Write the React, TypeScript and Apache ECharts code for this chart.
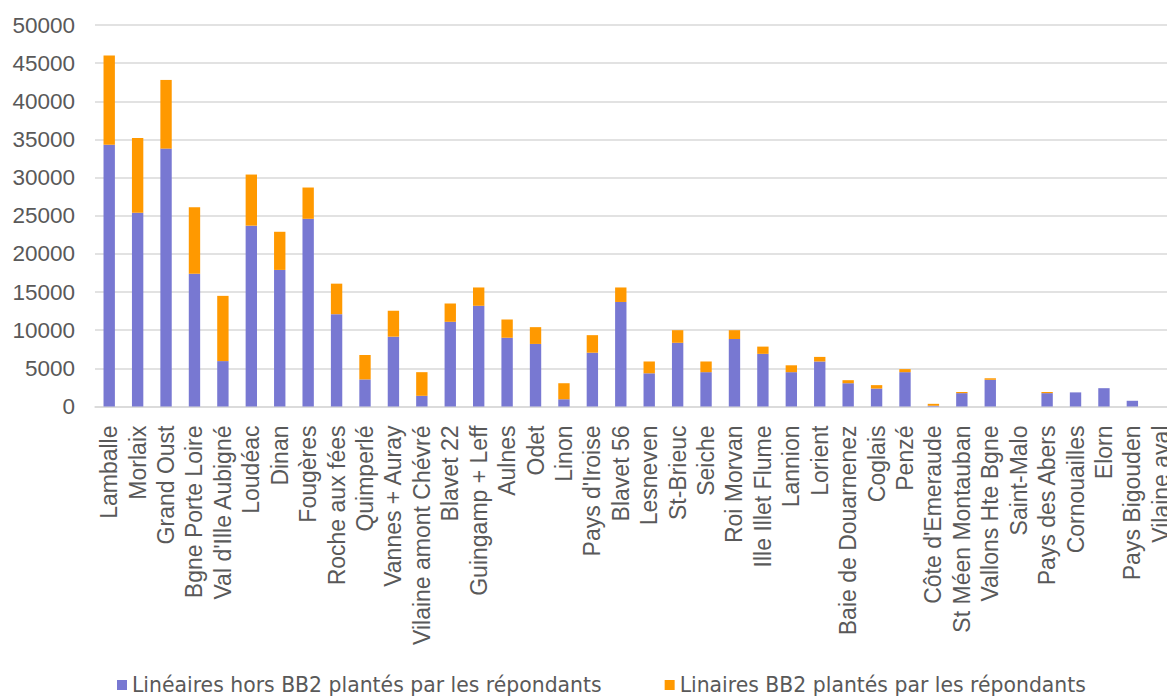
import React, { useEffect, useRef } from "react";
import * as echarts from "echarts";

const categories = [
  "Lamballe", "Morlaix", "Grand Oust", "Bgne Porte Loire", "Val d'Ille Aubigné",
  "Loudéac", "Dinan", "Fougères", "Roche aux fées", "Quimperlé",
  "Vannes + Auray", "Vilaine amont Chévré", "Blavet 22", "Guingamp + Leff", "Aulnes",
  "Odet", "Linon", "Pays d'Iroise", "Blavet 56", "Lesneven",
  "St-Brieuc", "Seiche", "Roi Morvan", "Ille Illet Flume", "Lannion",
  "Lorient", "Baie de Douarnenez", "Coglais", "Penzé", "Côte d'Emeraude",
  "St Méen Montauban", "Vallons Hte Bgne", "Saint-Malo", "Pays des Abers", "Cornouailles",
  "Elorn", "Pays Bigouden", "Vilaine aval",
];

const horsBB2 = [
  34300, 25400, 33800, 17400, 5950,
  23700, 17900, 24600, 12100, 3550,
  9150, 1400, 11100, 13200, 9000,
  8200, 950, 7050, 13700, 4350,
  8350, 4500, 8850, 6900, 4500,
  5900, 3050, 2350, 4500, 100,
  1750, 3500, 0, 1750, 1850,
  2400, 750, 0,
];

const bb2 = [
  11700, 9800, 9000, 8700, 8550,
  6700, 5000, 4100, 4000, 3200,
  3400, 3100, 2400, 2400, 2400,
  2200, 2100, 2300, 1900, 1550,
  1650, 1400, 1150, 950, 900,
  600, 400, 450, 400, 250,
  150, 200, 0, 150, 0,
  0, 0, 0,
];

const seriesNames = [
  "Linéaires hors BB2 plantés par les répondants",
  "Linaires BB2 plantés par les répondants",
];

const yMin = 0;
const yMax = 50000;
const yInterval = 5000;

export default function App() {
  const ref = useRef<HTMLDivElement>(null);

  useEffect(() => {
    if (!ref.current) return;
    const chart = echarts.init(ref.current, undefined, { renderer: "svg" });
    const font = "'Liberation Sans', Arial, sans-serif";
    chart.setOption({
      animation: false,
      backgroundColor: "#ffffff",
      grid: { left: 95, top: 25, width: 1080, height: 381.5, containLabel: false },
      legend: {
        left: 112,
        top: 669,
        itemWidth: 10,
        itemHeight: 10,
        itemGap: 63,
        icon: "rect",
        textStyle: { fontFamily: "'DejaVu Sans', sans-serif", fontSize: 20.4, lineHeight: 22, color: "#595959" },
        data: seriesNames,
      },
      xAxis: {
        type: "category",
        data: categories,
        axisLine: { show: true, lineStyle: { color: "#d9d9d9", width: 1.5 } },
        axisTick: { show: false },
        axisLabel: {
          interval: 0,
          rotate: 90,
          margin: 19,
          fontFamily: font,
          fontSize: 23,
          color: "#595959",
        },
      },
      yAxis: {
        type: "value",
        min: yMin,
        max: yMax,
        interval: yInterval,
        axisLine: { show: false },
        axisTick: { show: false },
        splitLine: { lineStyle: { color: "#d9d9d9", width: 1.5 } },
        axisLabel: {
          margin: 20,
          fontFamily: font,
          fontSize: 22.5,
          color: "#595959",
          formatter: (v: number) => String(v),
        },
      },
      series: [
        {
          name: seriesNames[0],
          type: "bar",
          stack: "total",
          barWidth: "40%",
          data: horsBB2,
          itemStyle: { color: "#7878d2" },
        },
        {
          name: seriesNames[1],
          type: "bar",
          stack: "total",
          barWidth: "40%",
          data: bb2,
          itemStyle: { color: "#ff9900" },
        },
      ],
    });
    return () => chart.dispose();
  }, []);

  return (
    <div style={{ position: "absolute", left: 0, top: 0, width: 1167, height: 696, overflow: "hidden", background: "#fff" }}>
      <div ref={ref} style={{ width: 1185, height: 696 }} />
    </div>
  );
}
